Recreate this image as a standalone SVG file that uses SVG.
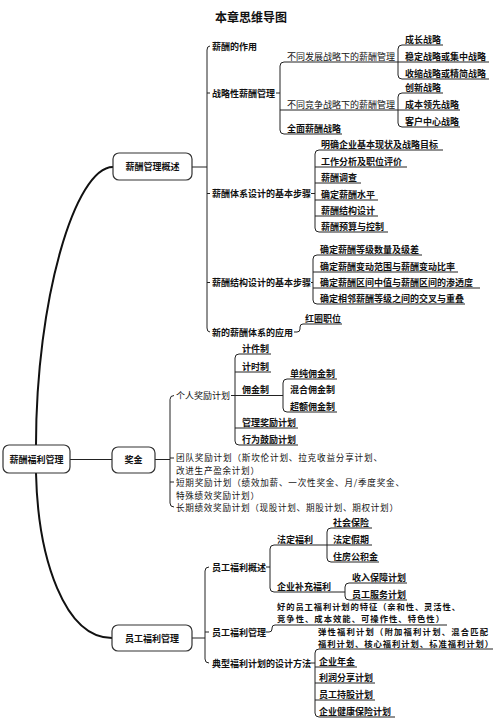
<svg xmlns="http://www.w3.org/2000/svg" width="497" height="724" viewBox="0 0 497 724">
<style>
text{font-family:"Noto Sans CJK SC","Noto Sans",sans-serif;font-size:9px;fill:#111;font-weight:700}
.n{font-weight:400}
.l{font-size:8.6px}
.k{font-size:8.3px}
.title{font-size:12px;font-weight:700}
.box{fill:#fff;stroke:#333;stroke-width:1.2}
.c{fill:none;stroke:#222;stroke-width:1}
.thick{fill:none;stroke:#111;stroke-width:2}
.m{text-anchor:middle}
</style>
<rect width="497" height="724" fill="#fff"/>
<text class="title m" x="251" y="22">本章思维导图</text>

<g id="connectors">
<path class="thick" d="M36,445 C36,300 75,167 113,167"/>
<path class="thick" d="M36,473 C38,560 65,638 112,638"/>
<path class="c" d="M70,459.5 H112"/>
<!-- section 1 -->
<path class="c" d="M192,167 H207"/>
<path class="c" d="M210,46 Q207,46 207,50 V328 Q207,332 210,332"/>
<path class="c" d="M207,93 H210 M207,193.5 H210 M207,282.5 H210"/>
<path class="c" d="M276,93 H280"/>
<path class="c" d="M398,62 H284 Q280,62 280,66 V130 Q280,134 284,134 H342"/>
<path class="c" d="M280,110 H398"/>
<path class="c" d="M443,45 H402 Q398,45 398,49 V75 Q398,79 402,79 H489 M398,62 H489"/>
<path class="c" d="M443,93 H402 Q398,93 398,97 V123 Q398,127 402,127 H460 M398,110 H460"/>
<path class="c" d="M311,193.5 H315"/>
<path class="c" d="M443,150 H319 Q315,150 315,154 V228 Q315,232 319,232 H388"/>
<path class="c" d="M315,167 H407 M315,183 H361 M315,200 H378 M315,216 H378"/>
<path class="c" d="M311,282.5 H313"/>
<path class="c" d="M422,255 H317 Q313,255 313,259 V300 Q313,304 317,304 H465"/>
<path class="c" d="M313,272 H458 M313,288 H480"/>
<path class="c" d="M294,332 H297 Q300,332 300,329 V327 Q300,324 303,324 H342"/>
<!-- section 2 -->
<path class="c" d="M155,459.5 H170"/>
<path class="c" d="M174,395.5 Q170,395.5 170,399.5 V503 Q170,507 174,507"/>
<path class="c" d="M170,458 H174 M170,482 H174"/>
<path class="c" d="M231,395.5 H283"/>
<path class="c" d="M271,354 H239 Q235,354 235,358 V441 Q235,445 239,445 H298"/>
<path class="c" d="M235,372 H271 M235,428 H298"/>
<path class="c" d="M337,379 H287 Q283,379 283,383 V408 Q283,412 287,412 H337"/>
<!-- section 3 -->
<path class="c" d="M192,638 H205"/>
<path class="c" d="M209,567 Q205,567 205,571 V659 Q205,663 209,663"/>
<path class="c" d="M205,632 H209"/>
<path class="c" d="M266,567 H270"/>
<path class="c" d="M327,545 H274 Q270,545 270,549 V588 Q270,592 274,592 H345"/>
<path class="c" d="M372,528 H331 Q327,528 327,532 V558 Q327,562 331,562 H379 M327,545 H372"/>
<path class="c" d="M407,583 H349 Q345,583 345,587 V596 Q345,600 349,600 H407"/>
<path class="c" d="M266,632 H269 Q272,632 272,629 V628 Q272,625 275,625 H447"/>
<path class="c" d="M306,663 H315"/>
<path class="c" d="M493,649 H319 Q315,649 315,653 V713 Q315,717 319,717 H395"/>
<path class="c" d="M315,667 H357 M315,683 H375 M315,700 H375"/>
</g>

<g id="root"><rect class="box" x="3" y="445" width="67" height="28" rx="6"/><text class="m" x="36.5" y="462.5">薪酬福利管理</text></g>
<g id="n-gaishu"><rect class="box" x="113" y="153" width="79" height="27" rx="6"/><text class="m" x="152.5" y="170">薪酬管理概述</text></g>
<g id="n-jiangjin"><rect class="box" x="112" y="447" width="43" height="26" rx="6"/><text class="m" x="133.5" y="463">奖金</text></g>
<g id="n-fuli"><rect class="box" x="112" y="625" width="80" height="26" rx="6"/><text class="m" x="152" y="641.5">员工福利管理</text></g>

<g id="n-zuoyong"><text x="212" y="49.5">薪酬的作用</text></g>
<g id="n-zhanlue"><text x="212" y="96.5">战略性薪酬管理</text></g>
<g id="n-fazhan"><text class="n" x="287" y="59.5">不同发展战略下的薪酬管理</text></g>
<g id="n-chengzhang"><text x="405" y="42.5">成长战略</text></g>
<g id="n-wending"><text x="405" y="59.5">稳定战略或集中战略</text></g>
<g id="n-shousuo"><text x="405" y="76.5">收缩战略或精简战略</text></g>
<g id="n-jingzheng"><text class="n" x="287" y="107.5">不同竞争战略下的薪酬管理</text></g>
<g id="n-chuangxin"><text x="405" y="90.5">创新战略</text></g>
<g id="n-chengben"><text x="405" y="107.5">成本领先战略</text></g>
<g id="n-kehu"><text x="405" y="124.5">客户中心战略</text></g>
<g id="n-quanmian"><text x="287" y="131.5">全面薪酬战略</text></g>

<g id="n-tixi"><text x="212" y="197">薪酬体系设计的基本步骤</text></g>
<g id="n-s1"><text x="321" y="147.5">明确企业基本现状及战略目标</text></g>
<g id="n-s2"><text x="321" y="164.5">工作分析及职位评价</text></g>
<g id="n-s3"><text x="321" y="180.5">薪酬调查</text></g>
<g id="n-s4"><text x="321" y="197.5">确定薪酬水平</text></g>
<g id="n-s5"><text x="321" y="213.5">薪酬结构设计</text></g>
<g id="n-s6"><text x="321" y="229.5">薪酬预算与控制</text></g>

<g id="n-jiegou"><text x="212" y="286">薪酬结构设计的基本步骤</text></g>
<g id="n-j1"><text x="320" y="252.5">确定薪酬等级数量及级差</text></g>
<g id="n-j2"><text x="320" y="269.5">确定薪酬变动范围与薪酬变动比率</text></g>
<g id="n-j3"><text x="320" y="285.5">确定薪酬区间中值与薪酬区间的渗透度</text></g>
<g id="n-j4"><text x="320" y="301.5">确定相邻薪酬等级之间的交叉与重叠</text></g>

<g id="n-xinde"><text x="212" y="335.5">新的薪酬体系的应用</text></g>
<g id="n-hongquan"><text x="305" y="321.5">红圈职位</text></g>

<g id="n-geren"><text class="n" x="176" y="399">个人奖励计划</text></g>
<g id="n-jijian"><text x="242" y="351.5">计件制</text></g>
<g id="n-jishi"><text x="242" y="369.5">计时制</text></g>
<g id="n-yongjin"><text x="242" y="393">佣金制</text></g>
<g id="n-danchun"><text x="290" y="376.5">单纯佣金制</text></g>
<g id="n-hunhe"><text x="290" y="393">混合佣金制</text></g>
<g id="n-chaoe"><text x="290" y="409.5">超额佣金制</text></g>
<g id="n-guanli"><text x="242" y="425.5">管理奖励计划</text></g>
<g id="n-xingwei"><text x="242" y="442.5">行为鼓励计划</text></g>
<g id="n-tuandui"><text class="n l" x="176" y="461" textLength="206" lengthAdjust="spacing">团队奖励计划（斯坎伦计划、拉克收益分享计划、</text><text class="n l" x="176" y="473.5" textLength="83" lengthAdjust="spacing">改进生产盈余计划）</text></g>
<g id="n-duanqi"><text class="n l" x="176" y="486" textLength="228" lengthAdjust="spacing">短期奖励计划（绩效加薪、一次性奖金、月/季度奖金、</text><text class="n l" x="176" y="498.5" textLength="83" lengthAdjust="spacing">特殊绩效奖励计划）</text></g>
<g id="n-changqi"><text class="n l" x="176" y="511" textLength="222" lengthAdjust="spacing">长期绩效奖励计划（现股计划、期股计划、期权计划）</text></g>

<g id="n-gaishu2"><text x="212" y="570.5">员工福利概述</text></g>
<g id="n-fading"><text x="277" y="542.5">法定福利</text></g>
<g id="n-shebao"><text x="333" y="525.5">社会保险</text></g>
<g id="n-jiaqi"><text x="333" y="542.5">法定假期</text></g>
<g id="n-gongjijin"><text x="333" y="559.5">住房公积金</text></g>
<g id="n-buchong"><text x="277" y="589.5">企业补充福利</text></g>
<g id="n-shouru"><text x="352" y="580.5">收入保障计划</text></g>
<g id="n-fuwu"><text x="352" y="597.5">员工服务计划</text></g>
<g id="n-guanli2"><text x="212" y="635.5">员工福利管理</text></g>
<g id="n-tezheng"><text class="k" x="277" y="610" textLength="183" lengthAdjust="spacing">好的员工福利计划的特征（亲和性、灵活性、</text><text class="k" x="277" y="622" textLength="167" lengthAdjust="spacing">竞争性、成本效能、可操作性、特色性）</text></g>
<g id="n-dianxing"><text x="212" y="666.5">典型福利计划的设计方法</text></g>
<g id="n-tanxing"><text class="k" x="318" y="635" textLength="170" lengthAdjust="spacing">弹性福利计划（附加福利计划、混合匹配</text><text class="k" x="318" y="647" textLength="175" lengthAdjust="spacing">福利计划、核心福利计划、标准福利计划）</text></g>
<g id="n-nianjin"><text x="319" y="664.5">企业年金</text></g>
<g id="n-lirun"><text x="319" y="680.5">利润分享计划</text></g>
<g id="n-chigu"><text x="319" y="697.5">员工持股计划</text></g>
<g id="n-jiankang"><text x="319" y="714.5">企业健康保险计划</text></g>
</svg>
